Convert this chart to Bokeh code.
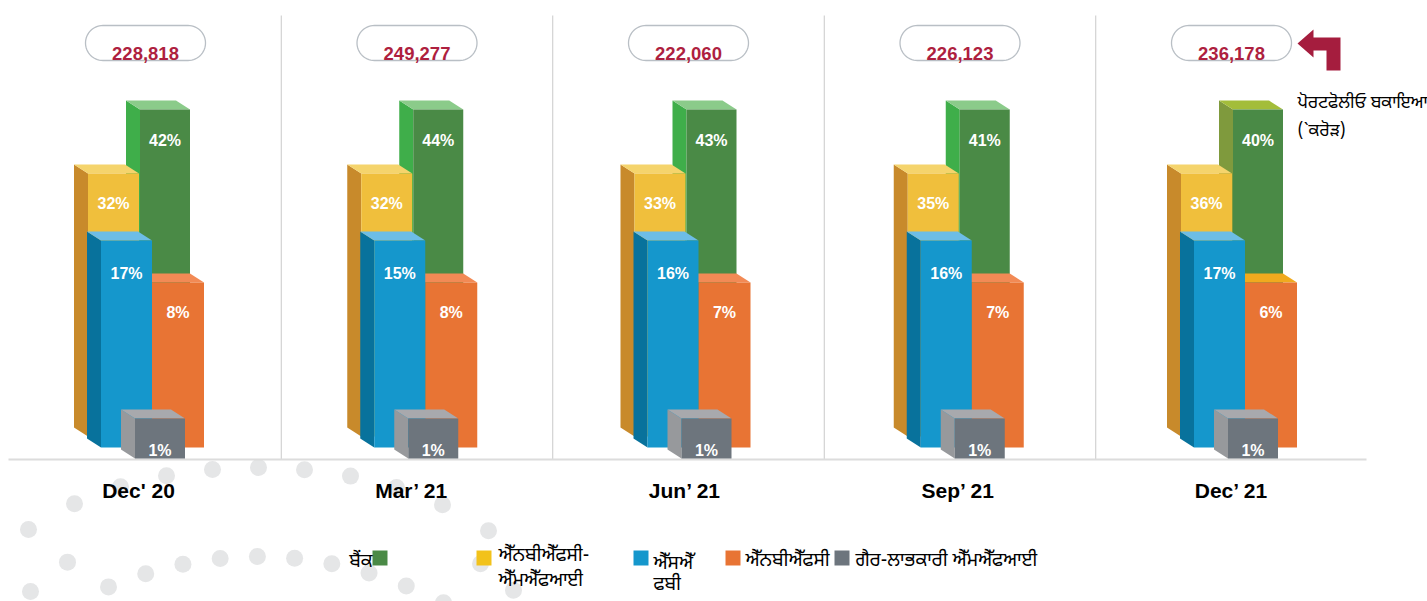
import numpy as np
from bokeh.plotting import figure
from bokeh.models import Range1d
from bokeh.core.properties import value
from bokeh.embed import file_html
from bokeh.resources import INLINE

# ---------------- data ----------------
quarters = ["Dec' 20", "Mar’ 21", "Jun’ 21", "Sep’ 21", "Dec’ 21"]
portfolio = [228818, 249277, 222060, 226123, 236178]          # ₹ crore
series_keys = ["bank", "nbfc_mfi", "sfb", "nbfc", "non_profit"]
series_names = ["ਬੈਂਕ", "ਐੱਨਬੀਐੱਫਸੀ-ਐੱਮਐੱਫਆਈ", "ਐੱਸਐੱਫਬੀ", "ਐੱਨਬੀਐੱਫਸੀ", "ਗੈਰ-ਲਾਭਕਾਰੀ ਐੱਮਐੱਫਆਈ"]
bank = [42, 44, 43, 41, 40]
nbfc_mfi = [32, 32, 33, 35, 36]
sfb = [17, 15, 16, 16, 17]
nbfc = [8, 8, 7, 7, 6]
non_profit = [1, 1, 1, 1, 1]
legend_lines = [["ਬੈਂਕ"], ["ਐੱਨਬੀਐੱਫਸੀ-", "ਐੱਮਐੱਫਆਈ"], ["ਐੱਸਐੱ", "ਫਬੀ"], ["ਐੱਨਬੀਐੱਫਸੀ"], ["ਗੈਰ-ਲਾਭਕਾਰੀ ਐੱਮਐੱਫਆਈ"]]
side_title = ["ਪੋਰਟਫੋਲੀਓ ਬਕਾਇਆ", "(`ਕਰੋੜ)"]
values = dict(bank=bank, nbfc_mfi=nbfc_mfi, sfb=sfb, nbfc=nbfc, non_profit=non_profit)

# ---------------- layout / style ----------------
W, H = 1427, 601
BOLD = value("Liberation Sans")
GURM = value("Noto Sans Gurmukhi, Lohit Gurmukhi, Noto Sans, sans-serif")
n = len(quarters)
bar_c = [138.0 + 273.25 * i for i in range(n)]
oval_c = [145 + 271.5 * i for i in range(n)]
DX, DY = -14, -9
BASE_Y = 459

geom = {
    "bank":       dict(x0=1.5,   x1=51.5, top=109, bottom=436, front="#4a8a46", side="#3fae4a", topc="#8bcb8a"),
    "nbfc_mfi":   dict(x0=-50.5, x1=0.5,  top=173, bottom=436, front="#f0bf3c", side="#c88a2b", topc="#f5d46c"),
    "nbfc":       dict(x0=13.5,  x1=65.5, top=282, bottom=447, front="#e87434", side="#d9652a", topc="#f28a55"),
    "sfb":        dict(x0=-37.5, x1=13.5, top=240, bottom=447, front="#1597cc", side="#08729c", topc="#6dbde6"),
    "non_profit": dict(x0=-3.5,  x1=46.5, top=418, bottom=458, front="#6d757d", side="#97999c", topc="#a8a9ad"),
}
last_override = {"bank": dict(side="#7f9a3d", topc="#a3bd3a"), "nbfc": dict(topc="#f0aa1e")}
draw_order = ["bank", "nbfc_mfi", "nbfc", "sfb", "non_profit"]
label_dy = {"bank": 31, "nbfc_mfi": 30, "nbfc": 30, "sfb": 33, "non_profit": 32}

legend_sq_x = [372, 476, 633, 725, 834]
legend_txt_x = [372, 498, 653, 745, 855]
legend_txt_align = ["right", "left", "left", "left", "left"]
legend_txt_y = [[562], [556, 581], [564, 585], [561], [561]]
legend_colors = ["#4a8a46", "#f2c21b", "#1597cc", "#e87434", "#6d757d"]

p = figure(width=W, height=H, x_range=Range1d(0, W), y_range=Range1d(H, 0),
           output_backend="svg", toolbar_location=None, min_border=0,
           x_axis_location=None, y_axis_location=None, outline_line_color=None)
p.grid.visible = False
p.background_fill_color = "white"
p.border_fill_color = "white"

# ---------------- decorative dots ----------------
dx_a = np.arange(28, 490, 46.0)
ya = 642 - 175 * np.sqrt(1 - ((dx_a - 257) / 300.0) ** 2)
dx_b = np.linspace(108, 443, 10)
yb = 556 + 0.00135 * (dx_b - 258) ** 2
dx_c = np.array([30.0, 67.0, 480.0, 513.0])
yc = 614 - 91.5 * np.sqrt(np.clip(1 - ((dx_c - 272) / 250.0) ** 2, 0, 1))
p.scatter(np.concatenate([dx_a, dx_b, dx_c]), np.concatenate([ya, yb, yc]),
          size=17, color="#e5e6e7", line_color=None)

# ---------------- dividers and baseline ----------------
for i in range(n - 1):
    xd = oval_c[i] + 135.75
    p.segment(x0=[xd], y0=[15], x1=[xd], y1=[BASE_Y], line_color="#c9c9c9", line_width=1)
p.segment(x0=[8], y0=[BASE_Y], x1=[1366], y1=[BASE_Y], line_color="#dcdcdc", line_width=2)

# ---------------- 3D bars ----------------
for key in draw_order:
    g = geom[key]
    side_xs, side_ys, top_xs, top_ys, side_col, top_col = [], [], [], [], [], []
    L, R, T, B, lx, ly, lt = [], [], [], [], [], [], []
    for i in range(n):
        c = bar_c[i]
        x0, x1 = c + g["x0"], c + g["x1"]
        t, b = g["top"], g["bottom"]
        sc, tc = g["side"], g["topc"]
        if i == n - 1 and key in last_override:
            sc = last_override[key].get("side", sc)
            tc = last_override[key].get("topc", tc)
        side_xs.append([x0, x0 + DX, x0 + DX, x0])
        side_ys.append([t, t + DY, b + DY, b])
        top_xs.append([x0, x1, x1 + DX, x0 + DX])
        top_ys.append([t, t, t + DY, t + DY])
        side_col.append(sc)
        top_col.append(tc)
        L.append(x0); R.append(x1); T.append(t); B.append(b)
        lx.append((x0 + x1) / 2.0)
        ly.append(t + label_dy[key])
        lt.append(f"{values[key][i]}%")
    p.patches(side_xs, side_ys, fill_color=side_col, line_color=None)
    p.patches(top_xs, top_ys, fill_color=top_col, line_color=None)
    p.quad(left=L, right=R, top=T, bottom=B, fill_color=g["front"], line_color=None)
    p.text(x=lx, y=ly, text=lt, text_color="white", text_font=BOLD, text_font_style="bold",
           text_font_size="16px", text_align="center", text_baseline="middle")

# ---------------- quarter labels ----------------
p.text(x=bar_c, y=[490] * n, text=quarters, text_color="black", text_font=BOLD,
       text_font_style="bold", text_font_size="21px", text_align="center", text_baseline="middle")

# ---------------- portfolio ovals ----------------
def stadium(cx, cy, hw, hh):
    r = hh
    a1 = np.linspace(-np.pi / 2, np.pi / 2, 30)
    a2 = np.linspace(np.pi / 2, 3 * np.pi / 2, 30)
    xs = np.concatenate([cx + hw - r + r * np.cos(a1), cx - hw + r + r * np.cos(a2)])
    ys = np.concatenate([cy + r * np.sin(a1), cy + r * np.sin(a2)])
    return list(xs) + [xs[0]], list(ys) + [ys[0]]

oxs, oys = [], []
for i in range(n):
    xs, ys = stadium(oval_c[i], 42.5, 60, 17.5)
    oxs.append(xs); oys.append(ys)
p.patches(oxs, oys, fill_color="white", line_color="#b9bfc5", line_width=1.3)
p.text(x=oval_c, y=[53] * n, text=[f"{v:,}" for v in portfolio], text_color="#ae1f3f",
       text_font=BOLD, text_font_style="bold", text_font_size="18.5px",
       text_align="center", text_baseline="middle")

# ---------------- arrow and side title ----------------
arrow_x = [1297, 1313, 1313, 1340, 1340, 1326, 1326, 1313, 1313]
arrow_y = [43, 29, 37, 37, 70, 70, 50, 50, 57]
p.patch(arrow_x, arrow_y, fill_color="#a51d3e", line_color=None)
p.text(x=[1297, 1297], y=[103, 131], text=side_title, text_color="black", text_font=GURM,
       text_font_size="17.5px", text_align="left", text_baseline="middle")

# ---------------- legend ----------------
p.rect(x=[s + 7.5 for s in legend_sq_x], y=[557.5] * 5, width=15, height=15,
       fill_color=legend_colors, line_color=None)
for k in range(5):
    for j, line in enumerate(legend_lines[k]):
        p.text(x=[legend_txt_x[k]], y=[legend_txt_y[k][j]], text=[line], text_color="black",
               text_font=GURM, text_font_size="19px", text_align=legend_txt_align[k],
               text_baseline="middle")

open("out.html", "w").write(file_html(p, INLINE))
